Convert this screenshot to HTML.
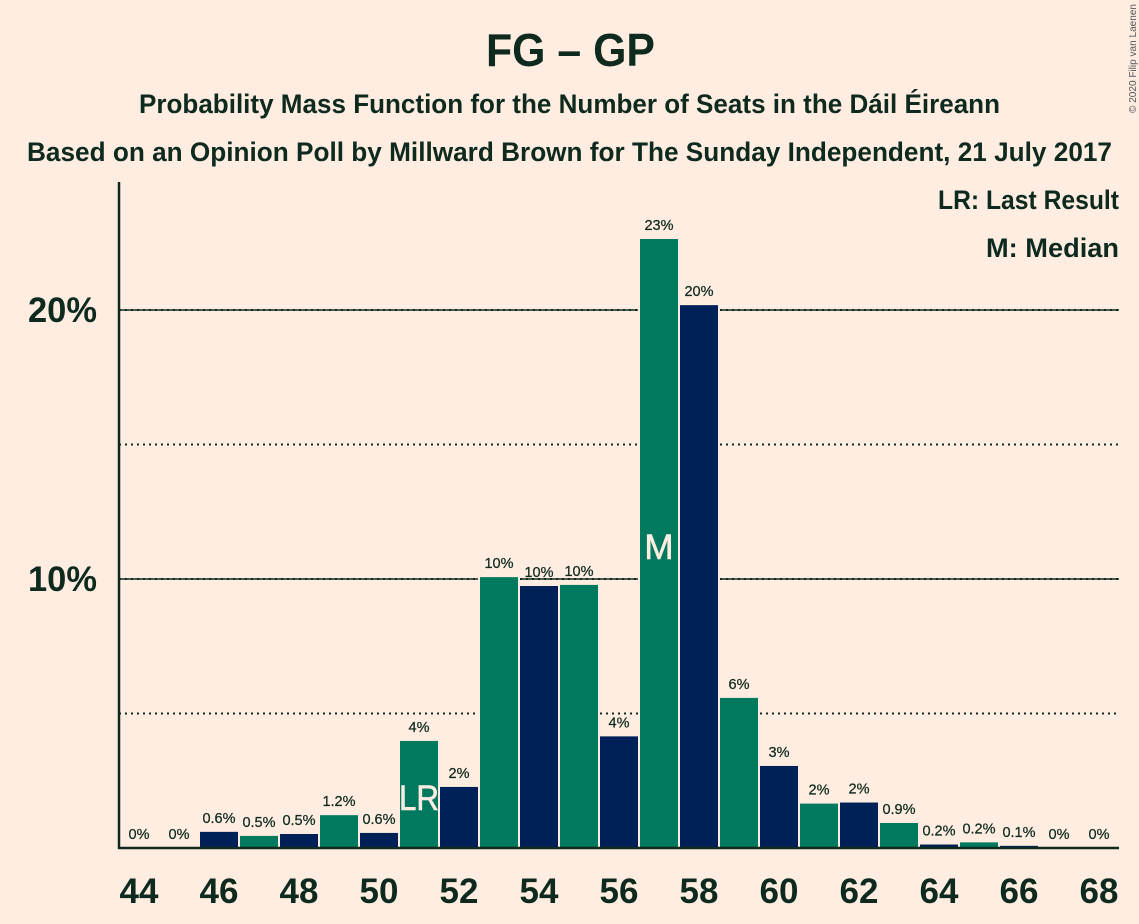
<!DOCTYPE html>
<html lang="en">
<head>
<meta charset="utf-8">
<title>FG – GP</title>
<style>
html,body{margin:0;padding:0;background:#FFEDE2;}
svg{display:block;font-family:"Liberation Sans",sans-serif;}
</style>
</head>
<body>
<svg id="chart" xmlns="http://www.w3.org/2000/svg" width="1139" height="924" viewBox="0 0 1139 924">
<rect x="0" y="0" width="1139" height="924" fill="#FFEDE2"/>
<text x="486" y="66" font-size="46" font-weight="700" fill="#0E2A1E" textLength="169" lengthAdjust="spacingAndGlyphs">FG – GP</text>
<text x="139" y="113" font-size="27" font-weight="700" fill="#0E2A1E" textLength="861" lengthAdjust="spacingAndGlyphs">Probability Mass Function for the Number of Seats in the Dáil Éireann</text>
<text x="27" y="161" font-size="27" font-weight="700" fill="#0E2A1E" textLength="1085" lengthAdjust="spacingAndGlyphs">Based on an Opinion Poll by Millward Brown for The Sunday Independent, 21 July 2017</text>
<text transform="translate(1136,113) rotate(-90)" font-size="10.5" fill="#555" textLength="109" lengthAdjust="spacingAndGlyphs">© 2020 Filip van Laenen</text>
<g id="grid"></g>
<g id="bars"></g>
<g id="labels"></g>
<g id="markers"></g>
<g id="axes"></g>
<text x="938" y="209" font-size="27" font-weight="700" fill="#0E2A1E" textLength="181" lengthAdjust="spacingAndGlyphs">LR: Last Result</text>
<text x="986" y="257" font-size="27" font-weight="700" fill="#0E2A1E" textLength="133" lengthAdjust="spacingAndGlyphs">M: Median</text>
</svg>
<script>
const seats = [44,45,46,47,48,49,50,51,52,53,54,55,56,57,58,59,60,61,62,63,64,65,66,67,68];
const probabilities = [0,0,0.6,0.45,0.52,1.22,0.56,3.98,2.27,10.07,9.74,9.78,4.15,22.64,20.18,5.58,3.05,1.65,1.69,0.93,0.13,0.21,0.08,0,0];
const valueLabels = ["0%","0%","0.6%","0.5%","0.5%","1.2%","0.6%","4%","2%","10%","10%","10%","4%","23%","20%","6%","3%","2%","2%","0.9%","0.2%","0.2%","0.1%","0%","0%"];
const seatTicks = [44,46,48,50,52,54,56,58,60,62,64,66,68];
const percentTicks = [10,20];
const solidLevels = [10,20];
const dottedLevels = [5,10,15,20];
const lastResultSeat = 51;
const medianSeat = 57;

const NS = 'http://www.w3.org/2000/svg';
const DARK = '#0E2A1E';
const xScale = s => 139 + (s - 44) * 40;
const yScale = v => 848 - v * 26.9;
const gridG = document.getElementById('grid');
const barsG = document.getElementById('bars');
const labelsG = document.getElementById('labels');
const markersG = document.getElementById('markers');
const axesG = document.getElementById('axes');

function make(tag, attrs, parent, text) {
  const el = document.createElementNS(NS, tag);
  for (const k in attrs) el.setAttribute(k, attrs[k]);
  if (text !== undefined) el.textContent = text;
  parent.appendChild(el);
  return el;
}

function gridSegments(level) {
  const segs = [];
  let start = xScale(44) - 20;
  seats.forEach((s, i) => {
    if (probabilities[i] >= level) {
      const a = xScale(s) - 21;
      if (a > start) segs.push([start, a]);
      start = xScale(s) + 21;
    }
  });
  segs.push([start, xScale(68) + 20]);
  return segs;
}

solidLevels.forEach(level => {
  gridSegments(level).forEach(seg => {
    const l = make('line', {x1: seg[0], x2: seg[1], y1: yScale(level), y2: yScale(level), stroke: DARK, 'stroke-width': 1.5}, gridG);
    
    
  });
});
dottedLevels.forEach(level => {
  gridSegments(level).forEach(seg => {
    const l = make('line', {x1: seg[0], x2: seg[1], y1: yScale(level), y2: yScale(level), stroke: DARK, 'stroke-width': 2, 'stroke-dasharray': '2 4'}, gridG);
    
    
  });
});

seats.forEach((s, i) => {
  const v = probabilities[i];
  if (v > 0) {
    const r = make('rect', {x: xScale(s) - 19, y: yScale(v), width: 38, height: yScale(0) - yScale(v), fill: s % 2 === 0 ? '#002157' : '#00795E'}, barsG);
    
    
  }
  const t = make('text', {x: xScale(s), y: yScale(v) - 9, 'font-size': 14.5, 'text-anchor': 'middle', fill: DARK, stroke: DARK, 'stroke-width': 0.25}, labelsG, valueLabels[i]);
  
  
});

const lrIdx = seats.indexOf(lastResultSeat);
const lrText = make('text', {x: xScale(lastResultSeat), y: yScale(probabilities[lrIdx]) + 69, 'font-size': 35, 'text-anchor': 'middle', fill: '#FFEDE2', stroke: '#FFEDE2', 'stroke-width': 0.6, textLength: 40, lengthAdjust: 'spacingAndGlyphs'}, markersG, 'LR');



const mText = make('text', {x: xScale(medianSeat), y: 559, 'font-size': 35, 'text-anchor': 'middle', fill: '#FFEDE2', stroke: '#FFEDE2', 'stroke-width': 0.6}, markersG, 'M');



const yAxis = make('line', {x1: 119, x2: 119, y1: 182, y2: 849, stroke: DARK, 'stroke-width': 2.5}, axesG);



const xAxis = make('line', {x1: 118, x2: 1119, y1: yScale(0), y2: yScale(0), stroke: DARK, 'stroke-width': 2.5}, axesG);



seatTicks.forEach(s => {
  const t = make('text', {x: xScale(s), y: 903, 'font-size': 35, 'font-weight': 700, 'text-anchor': 'middle', fill: DARK}, axesG, String(s));
  
  
});

percentTicks.forEach(p => {
  const t = make('text', {x: 28, y: yScale(p) + 12, 'font-size': 35, 'font-weight': 700, fill: DARK, textLength: 69, lengthAdjust: 'spacingAndGlyphs'}, axesG, p + '%');
  
  
});
</script>
</body>
</html>
